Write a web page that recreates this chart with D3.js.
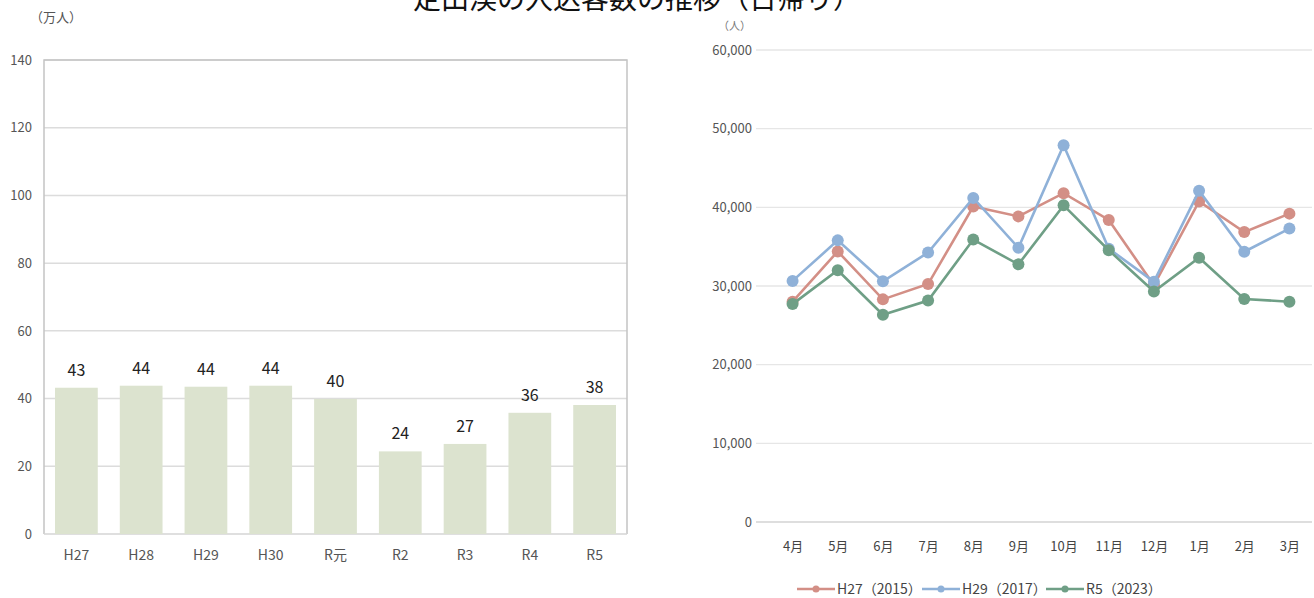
<!DOCTYPE html>
<html><head><meta charset="utf-8">
<script src="https://cdn.jsdelivr.net/npm/d3@7"></script>
<style>body{margin:0;background:#fff}svg{display:block}text{font-family:"Noto Sans CJK JP","Noto Sans",sans-serif}</style>
</head><body>
<script>
const title = "定山渓の入込客数の推移（日帰り）";
const years = ["H27","H28","H29","H30","R元","R2","R3","R4","R5"];
const visitors = [43.2,43.8,43.5,43.8,39.9,24.4,26.6,35.8,38.1];
const barTicks = [0,20,40,60,80,100,120,140];
const months = ["4月","5月","6月","7月","8月","9月","10月","11月","12月","1月","2月","3月"];
const h27 = [28000,34400,28300,30250,40100,38850,41800,38400,30100,40750,36850,39200];
const h29 = [30650,35800,30600,34250,41200,34850,47900,34750,30550,42100,34350,37300];
const r5  = [27700,32000,26350,28150,35900,32750,40250,34550,29300,33600,28350,28000];
const seriesNames = ["H27（2015）","H29（2017）","R5（2023）"];
const lineTicks = [0,10000,20000,30000,40000,50000,60000];

const W=1314,H=598;
const svg=d3.select("body").append("svg").attr("width",W).attr("height",H);

svg.append("text").attr("x",637).attr("y",9).attr("text-anchor","middle")
  .attr("font-size",28).attr("fill","#111").text(title);

// ---------- Left bar chart ----------
const L={x0:44,x1:627,y0:60,y1:534};
const xb=d3.scaleBand().domain(years).range([L.x0,L.x1]).paddingInner(0.34).paddingOuter(0.17);
const yb=d3.scaleLinear().domain([0,140]).range([L.y1,L.y0]);
const gl=svg.append("g");
gl.append("g").selectAll("line").data(barTicks.filter(d=>d>0)).join("line")
  .attr("x1",L.x0).attr("x2",L.x1).attr("y1",d=>yb(d)).attr("y2",d=>yb(d))
  .attr("stroke","#dcdcdc").attr("stroke-width",1.5);
gl.append("path").attr("d",`M${L.x0},${L.y1}V${L.y0}H${L.x1}V${L.y1}`)
  .attr("fill","none").attr("stroke","#c4c4c4").attr("stroke-width",1.5);
gl.append("line").attr("x1",L.x0).attr("x2",L.x1).attr("y1",L.y1).attr("y2",L.y1)
  .attr("stroke","#d4d4d4").attr("stroke-width",1.5);
gl.selectAll("rect").data(visitors).join("rect")
  .attr("x",(d,i)=>xb(years[i])).attr("width",xb.bandwidth())
  .attr("y",d=>yb(d)).attr("height",d=>yb(0)-yb(d)).attr("fill","#dce3cf");
gl.selectAll(".vl").data(visitors).join("text").attr("class","vl")
  .attr("x",(d,i)=>xb(years[i])+xb.bandwidth()/2).attr("y",d=>yb(d)-12)
  .attr("text-anchor","middle").attr("font-size",16).attr("fill","#222")
  .text(d=>Math.round(d));
const yAxL=d3.axisLeft(yb).tickValues(barTicks).tickSize(0).tickPadding(12);
gl.append("g").attr("transform",`translate(${L.x0},0)`).call(yAxL)
  .call(g=>g.select(".domain").remove())
  .call(g=>g.selectAll("text").attr("font-size",13).attr("fill","#555").attr("font-family","'Noto Sans CJK JP'"));
const xAxL=d3.axisBottom(xb).tickSize(0).tickPadding(16);
gl.append("g").attr("transform",`translate(0,${L.y1})`).call(xAxL)
  .call(g=>g.select(".domain").remove())
  .call(g=>g.selectAll("text").attr("font-size",14).attr("fill","#555").attr("font-family","'Noto Sans CJK JP'"));
svg.append("text").attr("x",30).attr("y",22).attr("font-size",13).attr("fill","#555").text("（万人）");

// ---------- Right line chart ----------
const R={x0:770,x1:1312,y0:50,y1:522};
const xl=d3.scalePoint().domain(months).range([R.x0,R.x1]).padding(0.5);
const yl=d3.scaleLinear().domain([0,60000]).range([R.y1,R.y0]);
const gr=svg.append("g");
gr.append("g").selectAll("line").data(lineTicks).join("line")
  .attr("x1",R.x0-14).attr("x2",R.x1).attr("y1",d=>yl(d)).attr("y2",d=>yl(d))
  .attr("stroke",d=>d===0?"#dedede":"#e6e6e6").attr("stroke-width",d=>d===0?2:1.3);
const yAxR=d3.axisLeft(yl).tickValues(lineTicks).tickSize(0).tickPadding(0).tickFormat(d3.format(","));
gr.append("g").attr("transform",`translate(${R.x0-18},0)`).call(yAxR)
  .call(g=>g.select(".domain").remove())
  .call(g=>g.selectAll("text").attr("font-size",13).attr("fill","#555").attr("font-family","'Noto Sans CJK JP'"));
const xAxR=d3.axisBottom(xl).tickSize(0).tickPadding(20);
gr.append("g").attr("transform",`translate(0,${R.y1})`).call(xAxR)
  .call(g=>g.select(".domain").remove())
  .call(g=>g.selectAll("text").attr("font-size",13).attr("fill","#444").attr("font-family","'Noto Sans CJK JP'"));
svg.append("text").attr("x",718).attr("y",30).attr("font-size",11).attr("fill","#777").text("（人）");

const series=[{name:seriesNames[0],vals:h27,color:"#d38f86"},
              {name:seriesNames[1],vals:h29,color:"#8fb1d8"},
              {name:seriesNames[2],vals:r5,color:"#6f9f86"}];
const line=d3.line().x((d,i)=>xl(months[i])).y(d=>yl(d));
series.forEach(s=>{
  gr.append("path").datum(s.vals).attr("d",line).attr("fill","none")
    .attr("stroke",s.color).attr("stroke-width",2.6);
  gr.append("g").selectAll("circle").data(s.vals).join("circle")
    .attr("cx",(d,i)=>xl(months[i])).attr("cy",d=>yl(d)).attr("r",6).attr("fill",s.color);
});
// legend
const lgX=[797,922,1046];
series.forEach((s,i)=>{
  const g=svg.append("g").attr("transform",`translate(${lgX[i]},589)`);
  g.append("line").attr("x1",0).attr("x2",38).attr("stroke",s.color).attr("stroke-width",2.6);
  g.append("circle").attr("cx",19).attr("r",3.5).attr("fill",s.color);
  g.append("text").attr("x",40).attr("y",5).attr("font-size",14).attr("fill","#444").text(s.name);
});
</script>
</body></html>
